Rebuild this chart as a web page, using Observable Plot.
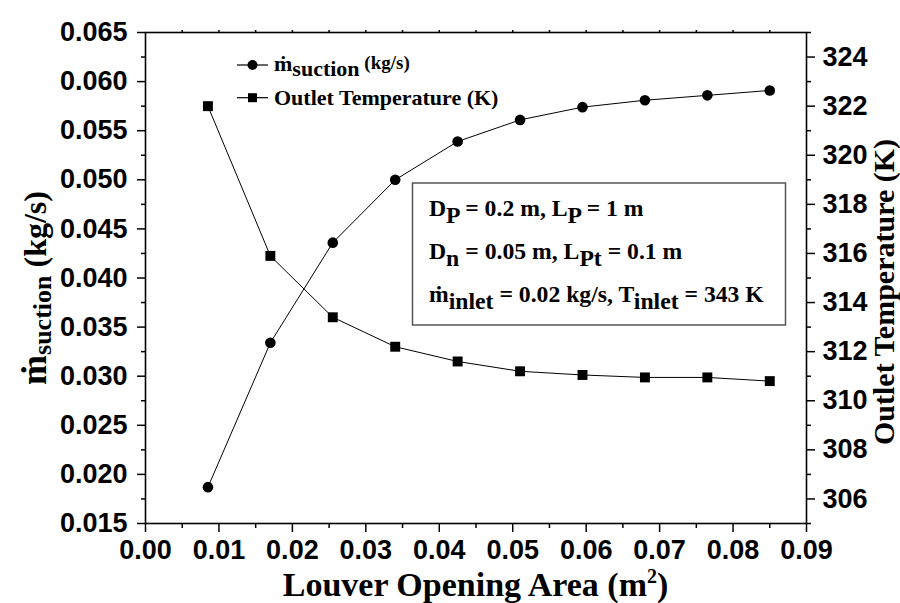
<!DOCTYPE html>
<html>
<head>
<meta charset="utf-8">
<script src="https://cdn.jsdelivr.net/npm/d3@7"></script>
<script src="https://cdn.jsdelivr.net/npm/@observablehq/plot@0.6"></script>
<style>
  html, body { margin: 0; padding: 0; background: #fff; }
  #chart { width: 900px; height: 603px; }
</style>
</head>
<body>
<div id="chart"></div>
<script>
// ---- data ----
const louverArea = [0.0085, 0.017, 0.0255, 0.034, 0.0425, 0.051, 0.0595, 0.068, 0.0765, 0.085];
const mSuction   = [0.0187, 0.0334, 0.0436, 0.0500, 0.0539, 0.0561, 0.0574, 0.0581, 0.0586, 0.0591];
const outletTemp = [322.0, 315.9, 313.4, 312.2, 311.6, 311.2, 311.05, 310.95, 310.95, 310.8];

const xTicks      = [0, 0.01, 0.02, 0.03, 0.04, 0.05, 0.06, 0.07, 0.08, 0.09];
const xMinorTicks = [0.005, 0.015, 0.025, 0.035, 0.045, 0.055, 0.065, 0.075, 0.085];
const xTopTicks   = [0.005, 0.01, 0.015, 0.02, 0.025, 0.03, 0.035, 0.04, 0.045, 0.05, 0.055, 0.06, 0.065, 0.07, 0.075, 0.08, 0.085];
const leftTicks   = [0.015, 0.020, 0.025, 0.030, 0.035, 0.040, 0.045, 0.050, 0.055, 0.060, 0.065];
const leftMinor   = [0.0175, 0.0225, 0.0275, 0.0325, 0.0375, 0.0425, 0.0475, 0.0525, 0.0575, 0.0625];
const rightTicks  = [306, 308, 310, 312, 314, 316, 318, 320, 322, 324];
const rightMinor  = [305, 307, 309, 311, 313, 315, 317, 319, 321, 323, 325];

const xDomain = [0, 0.09];
const yDomain = [0.015, 0.065];
const tDomain = [305, 325];

const seriesNames = ["suction", "Outlet Temperature (K)"];

// map right-axis (temperature) values onto the left scale
const toLeft = T => yDomain[0] + (T - tDomain[0]) / (tDomain[1] - tDomain[0]) * (yDomain[1] - yDomain[0]);
const fromLeft = v => tDomain[0] + (v - yDomain[0]) / (yDomain[1] - yDomain[0]) * (tDomain[1] - tDomain[0]);

const rows = louverArea.map((x, i) => ({x, m: mSuction[i], t: toLeft(outletTemp[i])}));

const tickFont = "Liberation Sans, Arial, sans-serif";
const serif = "Liberation Serif, Times New Roman, serif";

const axisCommon = {label: null, fontSize: 27, fontFamily: tickFont, fontWeight: "bold", strokeWidth: 1.5};

const chart = Plot.plot({
  width: 900,
  height: 603,
  marginLeft: 145,
  marginRight: 94,
  marginTop: 32,
  marginBottom: 80,
  x: {domain: xDomain},
  y: {domain: yDomain},
  style: {background: "white", color: "black", overflow: "visible"},
  marks: [
    Plot.frame({stroke: "black", strokeWidth: 1.6}),
    Plot.axisX({...axisCommon, ticks: xTicks, tickSize: 9, tickPadding: 7, tickFormat: d => d.toFixed(2)}),
    Plot.axisX({...axisCommon, ticks: xMinorTicks, tickSize: 5, tickFormat: () => ""}),
    Plot.axisX({...axisCommon, anchor: "top", ticks: xTopTicks, tickSize: 3, tickFormat: () => ""}),
    Plot.axisY({...axisCommon, ticks: leftTicks, tickSize: 8, tickPadding: 10, tickFormat: d => d.toFixed(3)}),
    Plot.axisY({...axisCommon, ticks: leftMinor, tickSize: 4, tickFormat: () => ""}),
    Plot.axisY({...axisCommon, anchor: "right", ticks: rightTicks.map(toLeft), tickSize: 8, tickPadding: 8,
      tickFormat: d => String(Math.round(fromLeft(d)))}),
    Plot.axisY({...axisCommon, anchor: "right", ticks: rightMinor.map(toLeft), tickSize: 4, tickFormat: () => ""}),
    Plot.line(rows, {x: "x", y: "m", stroke: "black", strokeWidth: 1}),
    Plot.dot(rows, {x: "x", y: "m", r: 5.3, fill: "black", stroke: "none", symbol: "circle"}),
    Plot.line(rows, {x: "x", y: "t", stroke: "black", strokeWidth: 1}),
    Plot.dot(rows, {x: "x", y: "t", r: 5.6, fill: "black", stroke: "none", symbol: "square"})
  ]
});

document.getElementById("chart").appendChild(chart);

const svg = d3.select(chart);
const xs = chart.scale("x");
const ys = chart.scale("y");
const plotLeft = xs.range[0], plotRight = xs.range[1];

// ---- axis titles ----
const xt = svg.append("text")
  .attr("x", (plotLeft + plotRight) / 2).attr("y", 596)
  .attr("text-anchor", "middle")
  .attr("font-family", serif).attr("font-weight", "bold").attr("font-size", 34)
  .attr("fill", "black");
xt.append("tspan").text("Louver Opening Area (m");
xt.append("tspan").attr("font-size", 20).attr("dy", -13).text("2");
xt.append("tspan").attr("dy", 13).text(")");

const lt = svg.append("text")
  .attr("transform", `translate(46,288) rotate(-90)`)
  .attr("text-anchor", "middle")
  .attr("font-family", serif).attr("font-weight", "bold").attr("font-size", 36)
  .attr("fill", "black");
lt.append("tspan").text("ṁ");
lt.append("tspan").attr("font-size", 26).attr("dy", 5).text(seriesNames[0]);
lt.append("tspan").attr("dy", -5).attr("font-size", 32).text(" (kg/s)");

svg.append("text")
  .attr("transform", `translate(894,292) rotate(-90)`)
  .attr("text-anchor", "middle")
  .attr("font-family", serif).attr("font-weight", "bold").attr("font-size", 30)
  .attr("fill", "black")
  .text("Outlet Temperature (K)");

// ---- legend ----
const leg = svg.append("g").attr("font-family", serif).attr("font-weight", "bold").attr("fill", "black");
const legX0 = 237, legX1 = 268, legTxt = 274;
const legY = [65, 97.7];
legY.forEach(y => leg.append("line").attr("x1", legX0).attr("x2", legX1).attr("y1", y).attr("y2", y)
  .attr("stroke", "black").attr("stroke-width", 1.2));
leg.append("circle").attr("cx", (legX0 + legX1) / 2).attr("cy", legY[0]).attr("r", 5).attr("fill", "black");
leg.append("rect").attr("x", (legX0 + legX1) / 2 - 4.5).attr("y", legY[1] - 4.5).attr("width", 9).attr("height", 9).attr("fill", "black");
const l1 = leg.append("text").attr("x", legTxt).attr("y", legY[0] + 6).attr("font-size", 22).attr("text-anchor", "start");
l1.append("tspan").text("ṁ");
l1.append("tspan").attr("dy", 5).text(seriesNames[0]);
l1.append("tspan").attr("dy", -7).attr("font-size", 19).text(" (kg/s)");
leg.append("text").attr("x", legTxt).attr("y", legY[1] + 7).attr("font-size", 22).attr("text-anchor", "start").text(seriesNames[1]);

// ---- annotation box ----
const box = svg.append("g").attr("font-family", serif).attr("font-weight", "bold").attr("fill", "black");
box.append("rect").attr("x", 412.5).attr("y", 183).attr("width", 373).attr("height", 142)
  .attr("fill", "white").attr("stroke", "#555").attr("stroke-width", 1.5);
const lines = [
  [["D", 0], ["P", 7], [" = 0.2 m, L", -7], ["P", 7], [" = 1 m", -7]],
  [["D", 0], ["n", 7], [" = 0.05 m, L", -7], ["Pt", 7], [" = 0.1 m", -7]],
  [["ṁ", 0], ["inlet", 7], [" = 0.02 kg/s, T", -7], ["inlet", 7], [" = 343 K", -7]]
];
const baselines = [216, 259, 302];
lines.forEach((parts, i) => {
  const t = box.append("text").attr("x", 429).attr("y", baselines[i]).attr("font-size", 23.7).attr("text-anchor", "start");
  parts.forEach(([s, dy]) => t.append("tspan").attr("dy", dy).text(s));
});
</script>
</body>
</html>
